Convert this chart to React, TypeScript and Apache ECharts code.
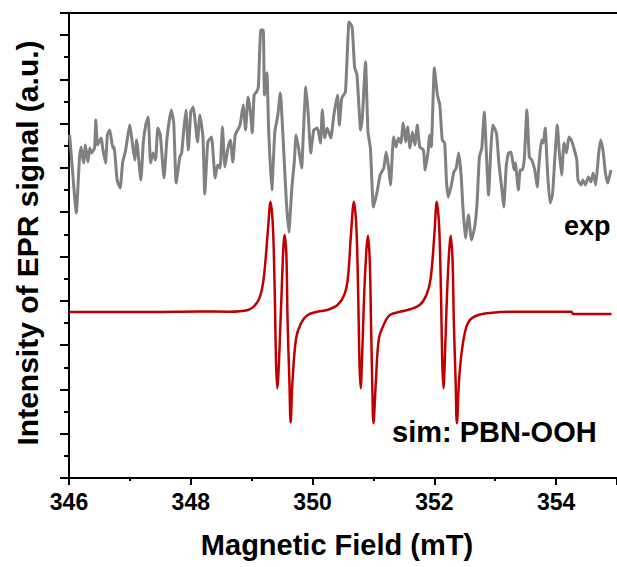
import React, { useEffect, useRef } from "react";
import * as echarts from "echarts";

// Magnetic field axis (mT)
const fieldMin = 346;
const fieldMax = 355;
const fieldStep = 2;

// Intensity axis (a.u., unlabeled)
const intensityMin = 0;
const intensityMax = 465;
const intensityStep = 44.3;

// Experimental spectrum (gray)
const expField = [
  346.01, 346.04, 346.12, 346.17, 346.2, 346.24, 346.27, 346.31, 346.34, 346.37,
  346.42, 346.44, 346.47, 346.53, 346.55, 346.6, 346.63, 346.67, 346.72, 346.74,
  346.79, 346.84, 346.88, 346.93, 347.0, 347.04, 347.08, 347.11, 347.18, 347.22,
  347.26, 347.3, 347.34, 347.38, 347.42, 347.46, 347.5, 347.56, 347.61, 347.68,
  347.72, 347.76, 347.82, 347.85, 347.88, 347.92, 347.96, 348.0, 348.04, 348.07,
  348.11, 348.15, 348.2, 348.23, 348.28, 348.34, 348.4, 348.44, 348.48, 348.52,
  348.56, 348.61, 348.65, 348.69, 348.73, 348.77, 348.81, 348.86, 348.9, 348.94,
  348.98, 349.01, 349.04, 349.08, 349.11, 349.15, 349.19, 349.21, 349.25, 349.28,
  349.33, 349.38, 349.43, 349.47, 349.53, 349.57, 349.61, 349.66, 349.7, 349.73,
  349.77, 349.82, 349.85, 349.89, 349.93, 349.97, 350.02, 350.08, 350.13, 350.16,
  350.2, 350.24, 350.3, 350.35, 350.41, 350.44, 350.48, 350.54, 350.6, 350.65,
  350.69, 350.73, 350.79, 350.82, 350.87, 350.91, 350.95, 351.0, 351.06, 351.11,
  351.17, 351.21, 351.25, 351.28, 351.33, 351.37, 351.41, 351.45, 351.49, 351.53,
  351.56, 351.6, 351.64, 351.68, 351.72, 351.76, 351.82, 351.85, 351.9, 351.92,
  351.95, 352.0, 352.05, 352.09, 352.13, 352.17, 352.2, 352.23, 352.28, 352.32,
  352.36, 352.4, 352.44, 352.47, 352.51, 352.56, 352.61, 352.66, 352.7, 352.74,
  352.78, 352.82, 352.86, 352.89, 352.93, 352.96, 353.02, 353.06, 353.11, 353.14,
  353.18, 353.22, 353.26, 353.31, 353.33, 353.38, 353.41, 353.45, 353.48, 353.52,
  353.56, 353.6, 353.65, 353.69, 353.72, 353.76, 353.79, 353.82, 353.86, 353.9,
  353.94, 353.98, 354.02, 354.05, 354.09, 354.13, 354.17, 354.21, 354.25, 354.3,
  354.34, 354.36, 354.41, 354.44, 354.48, 354.53, 354.57, 354.61, 354.65, 354.68,
  354.7, 354.73, 354.77, 354.81, 354.85, 354.9,
];
const expSignal = [
  343, 321, 265, 318, 331, 315, 333, 316, 330, 325,
  330, 358, 333, 340, 331, 315, 343, 348, 330, 331,
  298, 290, 315, 328, 353, 335, 318, 338, 298, 335,
  353, 361, 315, 325, 318, 350, 343, 300, 340, 368,
  355, 295, 321, 325, 345, 368, 328, 366, 371, 358,
  336, 363, 341, 284, 336, 341, 300, 313, 310, 351,
  311, 330, 338, 316, 343, 348, 353, 373, 348, 381,
  366, 345, 383, 386, 391, 448, 448, 383, 405, 346,
  288, 346, 363, 385, 323, 276, 246, 290, 316, 343,
  330, 310, 346, 391, 363, 325, 348, 350, 335, 368,
  340, 350, 340, 363, 383, 353, 380, 386, 456, 451,
  411, 403, 348, 363, 416, 346, 330, 271, 286, 303,
  310, 326, 310, 293, 341, 331, 340, 335, 355, 336,
  351, 330, 346, 333, 353, 331, 328, 308, 328, 343,
  331, 410, 383, 373, 338, 335, 296, 281, 293, 306,
  310, 325, 303, 270, 240, 263, 238, 250, 273, 321,
  330, 366, 318, 283, 331, 353, 345, 315, 288, 271,
  311, 325, 326, 308, 315, 288, 308, 308, 321, 368,
  321, 318, 308, 291, 315, 338, 335, 350, 305, 275,
  283, 321, 353, 328, 303, 335, 325, 341, 338, 328,
  318, 298, 293, 298, 293, 301, 296, 305, 293, 311,
  325, 338, 328, 305, 295, 308,
];

// Simulated spectrum (red)
const simField = [
  346.0, 347.32, 348.13, 348.62, 348.94, 349.08, 349.16, 349.21, 349.27, 349.31,
  349.35, 349.38, 349.4, 349.42, 349.46, 349.5, 349.54, 349.57, 349.59, 349.62,
  349.64, 349.67, 349.73, 349.81, 349.92, 350.08, 350.24, 350.41, 350.52, 350.58,
  350.63, 350.68, 350.72, 350.75, 350.77, 350.79, 350.82, 350.86, 350.91, 350.94,
  350.96, 350.98, 351.0, 351.04, 351.09, 351.18, 351.27, 351.44, 351.6, 351.76,
  351.87, 351.94, 352.0, 352.04, 352.08, 352.11, 352.13, 352.15, 352.18, 352.22,
  352.27, 352.3, 352.32, 352.35, 352.37, 352.41, 352.47, 352.55, 352.68, 352.95,
  353.22, 354.25, 354.28, 354.91,
];
const simSignal = [
  166, 166, 166.5, 166.3, 168, 174.7, 186.3, 206.3, 250, 276.3,
  250, 183, 116.3, 89.7, 133, 199.7, 243, 223, 156.3, 96.3,
  55.7, 96.3, 139.7, 154.7, 163, 166.3, 168, 173, 183, 199.7,
  243, 276.3, 250, 183, 116.3, 89.7, 133, 199.7, 242.3, 216.3,
  156.3, 96.3, 54.7, 96.3, 139.7, 154.7, 163, 166.3, 168.7, 173,
  183, 199.7, 243, 276.3, 250, 183, 116.3, 89.7, 133, 199.7,
  242.3, 216.3, 156.3, 96.3, 54.7, 101.3, 134.7, 154.7, 162, 165.3,
  166.3, 166.3, 164, 164,
];

const FONT = "'Liberation Sans', Arial, Helvetica, sans-serif";

export default function App() {
  const ref = useRef<HTMLDivElement>(null);

  useEffect(() => {
    if (!ref.current) return;
    const chart = echarts.init(ref.current, null, { renderer: "svg" });
    const expData = expField.map((x, i) => [x, expSignal[i]]);
    const simData = simField.map((x, i) => [x, simSignal[i]]);

    chart.setOption({
      animation: false,
      backgroundColor: "#ffffff",
      grid: { left: 69, top: 13, bottom: 89, right: -6, containLabel: false },
      xAxis: [
        {
          type: "value",
          min: fieldMin,
          max: fieldMax,
          interval: fieldStep,
          position: "bottom",
          name: "Magnetic Field (mT)",
          nameLocation: "middle",
          nameGap: 52,
          nameTextStyle: {
            fontFamily: FONT,
            fontWeight: "bold",
            fontSize: 29,
            color: "#000",
            padding: [0, 12, 0, 0],
          },
          axisLine: { show: true, onZero: false, lineStyle: { color: "#000", width: 2 } },
          axisTick: { show: true, inside: false, length: 7, lineStyle: { color: "#000", width: 2 } },
          minorTick: { show: true, splitNumber: 2, length: 3, lineStyle: { color: "#000", width: 2 } },
          axisLabel: {
            show: true,
            margin: 12,
            fontFamily: FONT,
            fontWeight: "bold",
            fontSize: 23,
            color: "#000",
            showMaxLabel: false,
          },
          splitLine: { show: false },
        },
        {
          type: "value",
          min: fieldMin,
          max: fieldMax,
          position: "top",
          axisLine: { show: true, onZero: false, lineStyle: { color: "#000", width: 2 } },
          axisTick: { show: false },
          axisLabel: { show: false },
          splitLine: { show: false },
        },
      ],
      yAxis: {
        type: "value",
        min: intensityMin,
        max: intensityMax,
        interval: intensityStep,
        axisLine: { show: true, onZero: false, lineStyle: { color: "#000", width: 2 } },
        axisTick: { show: true, inside: false, length: 9, lineStyle: { color: "#000", width: 2 } },
        minorTick: { show: true, splitNumber: 2, length: 5, lineStyle: { color: "#000", width: 2 } },
        axisLabel: { show: false },
        splitLine: { show: false },
      },
      graphic: [
        {
          type: "text",
          x: 27,
          y: 243,
          rotation: Math.PI / 2,
          style: {
            text: "Intensity of EPR signal (a.u.)",
            fontFamily: FONT,
            fontWeight: "bold",
            fontSize: 30,
            fill: "#000",
            align: "center",
            verticalAlign: "middle",
          },
        },
        {
          type: "text",
          x: 564,
          y: 226,
          style: {
            text: "exp",
            fontFamily: FONT,
            fontWeight: "bold",
            fontSize: 27,
            fill: "#000",
            align: "left",
            verticalAlign: "middle",
          },
        },
        {
          type: "text",
          x: 392,
          y: 432,
          style: {
            text: "sim: PBN-OOH",
            fontFamily: FONT,
            fontWeight: "bold",
            fontSize: 29,
            fill: "#000",
            align: "left",
            verticalAlign: "middle",
          },
        },
      ],
      series: [
        {
          name: "exp",
          type: "line",
          xAxisIndex: 0,
          data: expData,
          showSymbol: false,
          smooth: 0.15,
          lineStyle: { color: "#808080", width: 3 },
          z: 2,
        },
        {
          name: "sim: PBN-OOH",
          type: "line",
          xAxisIndex: 0,
          data: simData,
          showSymbol: false,
          smooth: 0.35,
          lineStyle: { color: "#c00000", width: 2.5 },
          z: 3,
        },
      ],
    });

    return () => {
      chart.dispose();
    };
  }, []);

  return (
    <div
      ref={ref}
      style={{ position: "fixed", left: 0, top: 0, width: 617, height: 567, background: "#fff" }}
    />
  );
}
